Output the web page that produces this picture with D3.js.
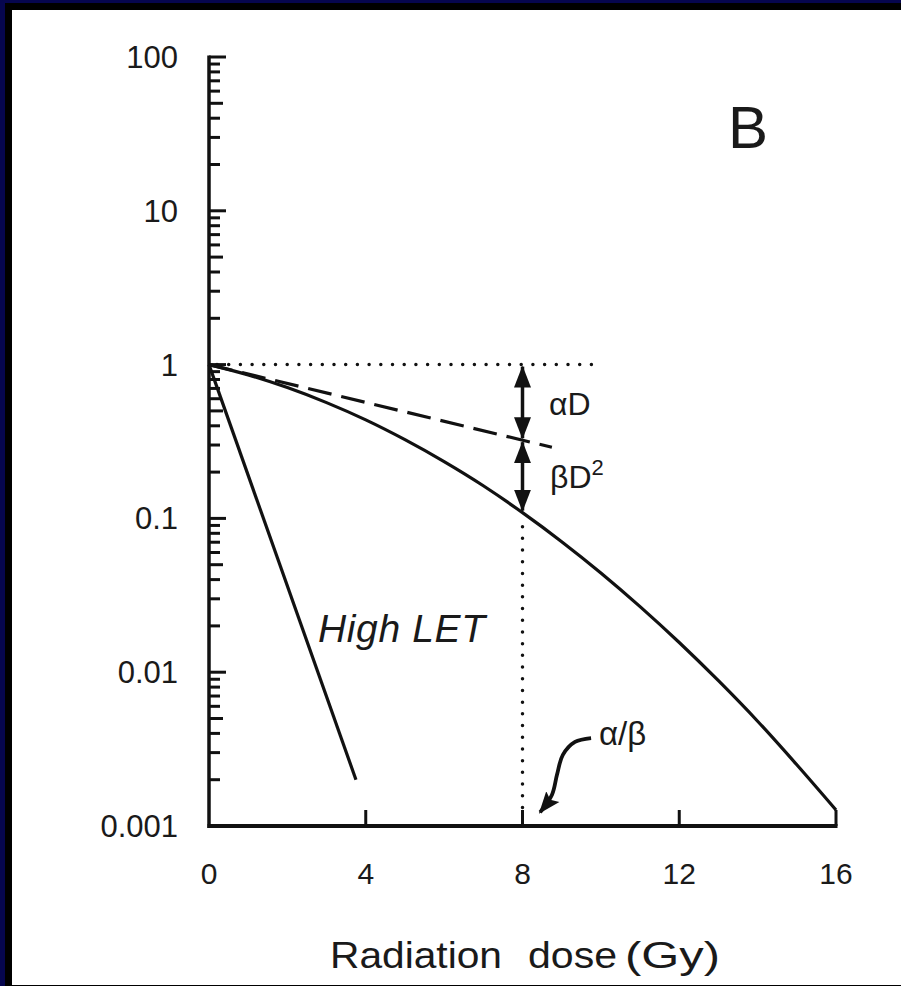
<!DOCTYPE html>
<html>
<head>
<meta charset="utf-8">
<script src="https://cdn.jsdelivr.net/npm/d3@7"></script>
<style>
  html, body { margin: 0; background: #fff; overflow: hidden; }
  svg { display: block; }
  text { font-family: "Liberation Sans", Arial, sans-serif; fill: #1a1a1a; }
</style>
</head>
<body>
<div id="chart"></div>
<script>
// survival curves
const lowDose = [0, 1, 2, 3, 4, 5, 6, 7, 8, 9, 10, 11, 12, 13, 14, 15, 16];
const lowSurv = [1, 0.857, 0.709, 0.566, 0.437, 0.325, 0.234, 0.163, 0.109, 0.0706,
  0.0442, 0.0267, 0.0156, 0.0088, 0.0048, 0.0025, 0.00127];
const highDose = [0, 3.75];
const highSurv = [1, 0.002];
const alphaDose = [0, 8.75];
const alphaSurv = [1, 0.29];
const xTicks = [0, 4, 8, 12, 16];
const yTicks = [100, 10, 1, 0.1, 0.01, 0.001];
const yTickLabels = ["100", "10", "1", "0.1", "0.01", "0.001"];
const alphaBetaDose = 8;
const arrowDose = [9.75, 9.34, 9.03, 8.88, 8.75, 8.45];
const arrowSurv = [0.00373, 0.00352, 0.0029, 0.00215, 0.00159, 0.00123];
const xTitle = ["Radiation", "dose", "(Gy)"];

const W = 901, H = 986;

const svg = d3.select("#chart").append("svg")
  .attr("width", W).attr("height", H);

// frame: navy, black, white panel
svg.append("rect").attr("width", W).attr("height", H).attr("fill", "#06064f");
svg.append("rect").attr("x", 5).attr("y", 3).attr("width", W - 5).attr("height", H - 3).attr("fill", "#000");
svg.append("rect").attr("x", 12).attr("y", 10).attr("width", W - 12).attr("height", H - 11).attr("fill", "#fff");

const x = d3.scaleLinear().domain([0, 16]).range([209, 836]);
const y = d3.scaleLog().domain([0.001, 100]).range([826, 57]);

const ink = "#111";

// arrow markers
const defs = svg.append("defs");
defs.append("marker").attr("id", "head")
  .attr("viewBox", "0 -10 22 20").attr("refX", 21).attr("refY", 0)
  .attr("markerWidth", 22).attr("markerHeight", 20)
  .attr("markerUnits", "userSpaceOnUse").attr("orient", "auto-start-reverse")
  .append("path").attr("d", "M0,-8.5L22,0L0,8.5Z").attr("fill", ink);
defs.append("marker").attr("id", "head2")
  .attr("viewBox", "0 -10 22 20").attr("refX", 20).attr("refY", 0)
  .attr("markerWidth", 22).attr("markerHeight", 20)
  .attr("markerUnits", "userSpaceOnUse").attr("orient", "auto")
  .append("path").attr("d", "M0,-8.5L22,0L0,8.5L4,0Z").attr("fill", ink);

// y axis: decades plus 2..9 minors, ticks pointing inward
const minor = [];
for (let e = -3; e < 2; e++) {
  for (let m = 2; m <= 9; m++) minor.push({ v: m * Math.pow(10, e), m: m });
}
const yAxis = svg.append("g");
yAxis.selectAll(".minor").data(minor).enter().append("line")
  .attr("x1", x(0)).attr("x2", d => x(0) + (d.m === 5 ? 14 : 11))
  .attr("y1", d => y(d.v)).attr("y2", d => y(d.v))
  .attr("stroke", ink).attr("stroke-width", 3);
yAxis.selectAll(".major").data(yTicks.slice(0, 5)).enter().append("line")
  .attr("x1", x(0)).attr("x2", x(0) + 17)
  .attr("y1", d => y(d)).attr("y2", d => y(d))
  .attr("stroke", ink).attr("stroke-width", 3);
yAxis.append("line")
  .attr("x1", x(0)).attr("x2", x(0))
  .attr("y1", y(100) - 1.5).attr("y2", y(0.001) + 2)
  .attr("stroke", ink).attr("stroke-width", 3.5);
yAxis.selectAll(".lab").data(yTicks).enter().append("text")
  .attr("x", 178).attr("y", d => y(d) + 11)
  .attr("text-anchor", "end").style("font-size", "31px")
  .text((d, i) => yTickLabels[i]);

// x axis
const xAxis = svg.append("g");
xAxis.append("line")
  .attr("x1", x(0) - 1.5).attr("x2", x(16) + 1.5)
  .attr("y1", y(0.001)).attr("y2", y(0.001))
  .attr("stroke", ink).attr("stroke-width", 4);
xAxis.selectAll(".tick").data(xTicks.slice(1)).enter().append("line")
  .attr("x1", d => x(d)).attr("x2", d => x(d))
  .attr("y1", y(0.001)).attr("y2", y(0.001) - 16)
  .attr("stroke", ink).attr("stroke-width", 3);
xAxis.selectAll(".lab").data(xTicks).enter().append("text")
  .attr("x", d => x(d)).attr("y", 884)
  .attr("text-anchor", "middle").style("font-size", "30px")
  .text(d => d);

// axis title, word by word (wide letters as in the original)
const titleX = [330, 528, 625], titleLen = [172, 89, 95];
svg.selectAll(".xtitle").data(xTitle).enter().append("text")
  .attr("x", (d, i) => titleX[i]).attr("y", 968)
  .attr("textLength", (d, i) => titleLen[i]).attr("lengthAdjust", "spacingAndGlyphs")
  .style("font-size", "37px")
  .text(d => d);

// reference lines (dotted)
svg.append("line")
  .attr("x1", x(0) + 8).attr("x2", x(9.8))
  .attr("y1", y(1)).attr("y2", y(1))
  .attr("stroke", ink).attr("stroke-width", 3.5)
  .attr("stroke-linecap", "round").attr("stroke-dasharray", "0 11.7");
svg.append("line")
  .attr("x1", x(alphaBetaDose)).attr("x2", x(alphaBetaDose))
  .attr("y1", y(lowSurv[8]) + 14).attr("y2", y(0.001) - 18)
  .attr("stroke", ink).attr("stroke-width", 3.5)
  .attr("stroke-linecap", "round").attr("stroke-dasharray", "0 11.7");

const line = d3.line().x(d => x(d[0])).y(d => y(d[1]));

// alpha component (dashed)
svg.append("path")
  .datum(alphaDose.map((d, i) => [d, alphaSurv[i]]))
  .attr("d", line).attr("fill", "none")
  .attr("stroke", ink).attr("stroke-width", 3.2)
  .attr("stroke-dasharray", "24 10");

// low LET curve
svg.append("path")
  .datum(lowDose.map((d, i) => [d, lowSurv[i]]))
  .attr("d", line.curve(d3.curveMonotoneX)).attr("fill", "none")
  .attr("stroke", ink).attr("stroke-width", 3.2);

// high LET line
svg.append("path")
  .datum(highDose.map((d, i) => [d, highSurv[i]]))
  .attr("d", d3.line().x(d => x(d[0])).y(d => y(d[1])))
  .attr("fill", "none").attr("stroke", ink).attr("stroke-width", 3.2);

// double-headed arrows at D = alpha/beta
const aSurv = alphaSurv[0] * Math.pow(alphaSurv[1] / alphaSurv[0], alphaBetaDose / alphaDose[1]);
[[1, aSurv], [aSurv, lowSurv[8]]].forEach(p => {
  svg.append("line")
    .attr("x1", x(alphaBetaDose)).attr("x2", x(alphaBetaDose))
    .attr("y1", y(p[0]) + 2).attr("y2", y(p[1]) - 2)
    .attr("stroke", ink).attr("stroke-width", 3.5)
    .attr("marker-start", "url(#head)").attr("marker-end", "url(#head)");
});

// curved arrow to alpha/beta
svg.append("path")
  .datum(arrowDose.map((d, i) => [d, arrowSurv[i]]))
  .attr("d", d3.line().x(d => x(d[0])).y(d => y(d[1])).curve(d3.curveCatmullRom))
  .attr("fill", "none").attr("stroke", ink).attr("stroke-width", 3.8)
  .attr("marker-end", "url(#head2)");

// labels
svg.append("text").attr("x", 549).attr("y", 415)
  .style("font-size", "32px").text("αD");
const bd = svg.append("text").attr("x", 550).attr("y", 488)
  .style("font-size", "32px");
bd.append("tspan").text("βD");
bd.append("tspan").attr("dy", -13).style("font-size", "22px").text("2");
svg.append("text").attr("x", 599).attr("y", 745)
  .style("font-size", "33px").text("α/β");
svg.append("text").attr("x", 318).attr("y", 642)
  .attr("textLength", 167).attr("lengthAdjust", "spacing")
  .style("font-size", "39px").style("font-style", "italic")
  .text("High LET");
svg.append("text").attr("x", 728).attr("y", 148)
  .style("font-size", "60px").text("B");
</script>
</body>
</html>
